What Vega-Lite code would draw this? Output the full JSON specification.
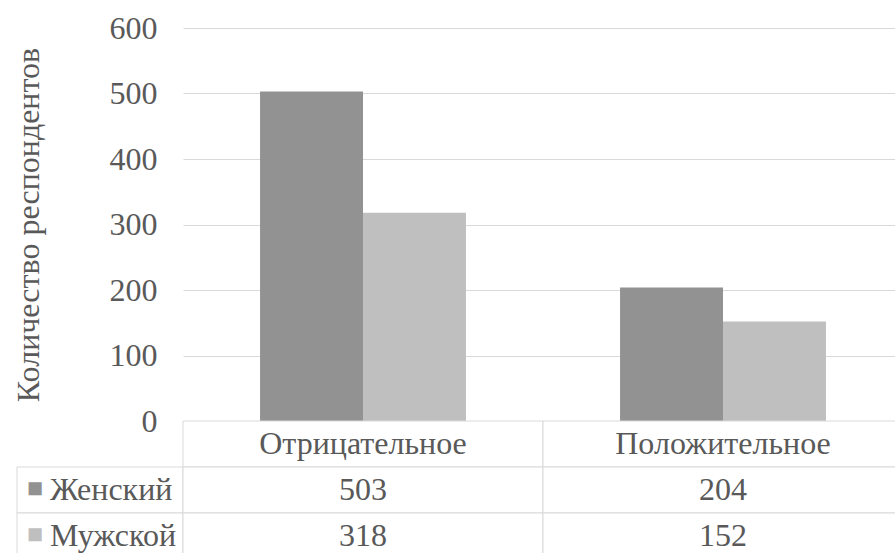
{
  "$schema": "https://vega.github.io/schema/vega-lite/v6.json",
  "background": "white",
  "padding": {"left": 12, "top": 12, "right": 0, "bottom": 0},
  "datasets": {
    "vals": [
      {"cat": "Отрицательное", "gender": "Женский", "value": 503},
      {"cat": "Отрицательное", "gender": "Мужской", "value": 318},
      {"cat": "Положительное", "gender": "Женский", "value": 204},
      {"cat": "Положительное", "gender": "Мужской", "value": 152}
    ],
    "cats": [
      {"cat": "Отрицательное", "row": "header"},
      {"cat": "Положительное", "row": "header"}
    ],
    "series": [
      {"gender": "Женский"},
      {"gender": "Мужской"}
    ]
  },
  "config": {
    "font": "Liberation Serif",
    "text": {"font": "Liberation Serif"},
    "axis": {"labelFont": "Liberation Serif", "titleFont": "Liberation Serif"},
    "view": {"stroke": null}
  },
  "columns": 2,
  "spacing": 0,
  "bounds": "flush",
  "align": "each",
  "concat": [
    {
      "width": 166,
      "height": 393,
      "data": {"values": [{}]},
      "mark": {"type": "text"},
      "encoding": {"text": {"value": ""}}
    },
    {
      "width": 720,
      "height": 393,
      "data": {"name": "vals"},
      "mark": {"type": "bar"},
      "encoding": {
        "x": {"field": "cat", "type": "nominal", "sort": null,
              "scale": {"paddingInner": 0.428, "paddingOuter": 0.214}, "axis": null},
        "xOffset": {"field": "gender", "type": "nominal", "sort": null,
                    "scale": {"paddingInner": 0, "paddingOuter": 0}},
        "y": {"field": "value", "type": "quantitative",
              "scale": {"domain": [0, 600], "nice": false},
              "axis": {"values": [0, 100, 200, 300, 400, 500, 600],
                       "title": "Количество респондентов",
                       "grid": true, "gridColor": "#d9d9d9", "gridWidth": 1,
                       "domain": false, "ticks": false, "tickSize": 0,
                       "labelPadding": 26, "labelFontSize": 32, "labelColor": "#595959",
                       "labelFont": "Liberation Serif",
                       "titleFont": "Liberation Serif",
                       "titleFontSize": 32, "titleFontWeight": "normal", "titleColor": "#595959",
                       "titlePadding": 64}},
        "color": {"field": "gender", "type": "nominal",
                  "scale": {"domain": ["Женский", "Мужской"], "range": ["#929292", "#bfbfbf"]},
                  "legend": null}
      }
    },
    {
      "width": 166,
      "height": 138,
      "data": {"name": "series"},
      "encoding": {
        "y": {"field": "gender", "type": "nominal",
              "scale": {"domain": ["header", "Женский", "Мужской"], "paddingInner": 0, "paddingOuter": 0},
              "axis": null}
      },
      "layer": [
        {
          "mark": {"type": "rect", "fill": "white", "stroke": "#d9d9d9", "strokeWidth": 1}
        },
        {
          "mark": {"type": "text", "text": "■", "font": "Liberation Serif", "fontSize": 27, "align": "center", "baseline": "middle", "dx": -65, "dy": -1},
          "encoding": {
            "color": {"field": "gender", "type": "nominal",
                      "scale": {"domain": ["Женский", "Мужской"], "range": ["#929292", "#bfbfbf"]},
                      "legend": null}
          }
        },
        {
          "mark": {"type": "text", "font": "Liberation Serif", "fontSize": 32, "align": "left", "baseline": "middle", "dx": -50, "color": "#595959"},
          "encoding": {"text": {"field": "gender"}}
        }
      ]
    },
    {
      "width": 720,
      "height": 138,
      "layer": [
        {
          "data": {"name": "cats"},
          "mark": {"type": "rect", "fill": "white", "stroke": "#d9d9d9", "strokeWidth": 1},
          "encoding": {
            "x": {"field": "cat", "type": "nominal", "sort": null,
                  "scale": {"paddingInner": 0, "paddingOuter": 0}, "axis": null},
            "y": {"field": "row", "type": "nominal",
                  "scale": {"domain": ["header", "Женский", "Мужской"], "paddingInner": 0, "paddingOuter": 0},
                  "axis": null}
          }
        },
        {
          "data": {"name": "cats"},
          "mark": {"type": "text", "font": "Liberation Serif", "fontSize": 32, "baseline": "middle", "color": "#595959"},
          "encoding": {
            "x": {"field": "cat", "type": "nominal", "sort": null},
            "y": {"field": "row", "type": "nominal"},
            "text": {"field": "cat"}
          }
        },
        {
          "data": {"name": "vals"},
          "mark": {"type": "rect", "fill": "white", "stroke": "#d9d9d9", "strokeWidth": 1},
          "encoding": {
            "x": {"field": "cat", "type": "nominal", "sort": null},
            "y": {"field": "gender", "type": "nominal"}
          }
        },
        {
          "data": {"name": "vals"},
          "mark": {"type": "text", "font": "Liberation Serif", "fontSize": 32, "baseline": "middle", "color": "#595959"},
          "encoding": {
            "x": {"field": "cat", "type": "nominal", "sort": null},
            "y": {"field": "gender", "type": "nominal"},
            "text": {"field": "value"}
          }
        }
      ]
    }
  ]
}
